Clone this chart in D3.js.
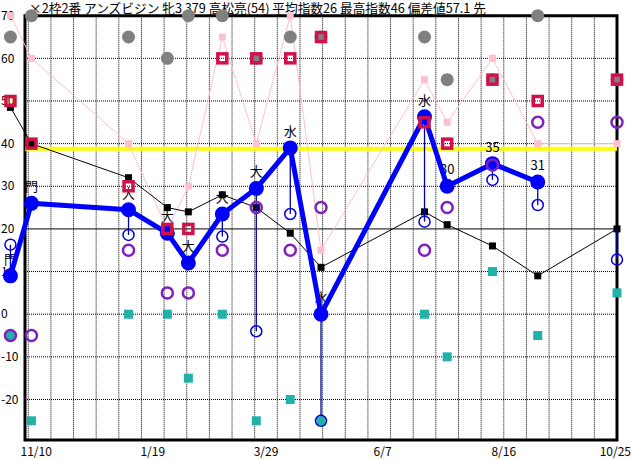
<!DOCTYPE html>
<html>
<head>
<meta charset="utf-8">
<script src="https://cdn.jsdelivr.net/npm/d3@7"></script>
<style>
  body { margin: 0; background: #fff; }
  svg { display: block; font-family: "Noto Sans CJK JP", sans-serif; }
</style>
</head>
<body>
<div id="chart"></div>
<script>
const title = "×2枠2番 アンズビジン 牝3 379 高松亮(54) 平均指数26 最高指数46 偏差値57.1 先";

const raceDates = ["2023-10-16", "2023-10-29", "2023-12-28", "2024-01-21", "2024-02-03", "2024-02-24", "2024-03-16",
  "2024-04-06", "2024-04-25", "2024-06-28", "2024-07-12", "2024-08-09", "2024-09-06", "2024-10-25"];
const raceLabels = ["門", "門", "大", "大", "大", "大", "大", "水", "水", "水", "30", "35", "31", ""];
const mainIndex = [9, 26, 24.5, 19, 12, 23.5, 29.5, 39, 0, 46.3, 30, 35.3, 31, null];
const subIndex = [16.3, 26, 18.6, 19, 12, 18.2, -4, 23.5, -25, 21.7, 30, 31.5, 25.6, 12.8];
const blackIndex = [48.5, 40, 32, 25, 24, 28, 25, 19, 11, 24, 21, 16, 9, 20];
const pinkIndex = [70, 60, 40, 20, 30, 65, 40, 70, 15, 55, 45, 60, 40, 40];
const redIndex = [50, 40, 30, 20, 20, 60, 60, 60, 65, 45, 40, 55, 50, 55];
const grayIndex = [65, 70, 65, 60, 70, 70, 60, 65, 65, 65, 55, 55, 70, 55];
const purpleIndex = [-5, -5, 15, 5, 5, 15, 25, 15, 25, 15, 25, 35, 45, 45];
const tealIndex = [-5, -25, 0, 0, -15, 0, -25, -20, -25, 0, -10, 10, -5, 5];
const avgLine = 38.8;

const yTicks = [70, 60, 50, 40, 30, 20, 10, 0, -10, -20];
const xTickDates = ["2023-11-10", "2024-01-19", "2024-03-29", "2024-06-07", "2024-08-16", "2024-10-25"];
const xTickLabels = ["11/10", "1/19", "3/29", "6/7", "8/16", "10/25"];

const width = 632;
const height = 460;
const parse = d3.timeParse("%Y-%m-%d");

const races = raceDates.map((d, i) => ({
  date: parse(d),
  label: raceLabels[i],
  main: mainIndex[i],
  sub: subIndex[i],
  black: blackIndex[i],
  pink: pinkIndex[i],
  red: redIndex[i],
  gray: grayIndex[i],
  purple: purpleIndex[i],
  teal: tealIndex[i]
}));

const x = d3.scaleTime()
  .domain([parse("2023-10-25"), parse("2024-10-25")])
  .range([25, 617]);
const y = d3.scaleLinear().domain([-29.5, 70]).range([440, 15.7]);

const svg = d3.select("#chart").append("svg")
  .attr("width", width)
  .attr("height", height);

// texts
svg.append("text")
  .attr("x", 29).attr("y", 13)
  .style("font-size", "12.7px")
  .text(title);

svg.append("g").selectAll("text")
  .data(yTicks)
  .join("text")
  .attr("x", 1)
  .attr("y", d => y(d))
  .attr("dy", "0.35em")
  .style("font-size", "12px")
  .text(d => d);

svg.append("g").selectAll("text")
  .data(xTickDates)
  .join("text")
  .attr("x", (d, i) => {
    const px = x(parse(d));
    if (i === 4) return px;
    if (i === 5) return Math.min(px + 14, 631);
    return px + 1;
  })
  .attr("y", 456)
  .attr("text-anchor", (d, i) => i === 4 ? "middle" : "end")
  .style("font-size", "12px")
  .text((d, i) => xTickLabels[i]);

// grid
const grid = svg.append("g");
const vDays = [];
for (let d = parse("2024-10-25"); d > x.domain()[0]; d = d3.timeDay.offset(d, -14)) vDays.push(d);

grid.selectAll(".v")
  .data(vDays)
  .join("line")
  .attr("x1", d => x(d)).attr("x2", d => x(d))
  .attr("y1", y(70)).attr("y2", 440)
  .attr("stroke", "#000")
  .attr("stroke-dasharray", "1,1");

grid.selectAll(".h")
  .data(yTicks.filter(d => d < 70))
  .join("line")
  .attr("x1", 25).attr("x2", 617)
  .attr("y1", d => y(d)).attr("y2", d => y(d))
  .attr("stroke", "#000")
  .attr("stroke-dasharray", d => d === 20 ? null : "1,1");

// frame
svg.append("path")
  .attr("d", `M25,${y(70)}H617V440H25Z`)
  .attr("fill", "none")
  .attr("stroke", "#000")
  .attr("stroke-width", 3);

// average line
svg.append("line")
  .attr("x1", 25).attr("x2", 617)
  .attr("y1", y(avgLine)).attr("y2", y(avgLine))
  .attr("stroke", "#ffff00")
  .attr("stroke-width", 4);

// race labels
svg.append("g").selectAll("text")
  .data(races.filter(d => d.main != null))
  .join("text")
  .attr("x", d => x(d.date))
  .attr("y", d => y(d.main) - 12)
  .attr("text-anchor", "middle")
  .style("font-size", "13px")
  .text(d => d.label);

// pink line
svg.append("path")
  .datum(races)
  .attr("fill", "none")
  .attr("stroke", "#ffc0cb")
  .attr("stroke-width", 1)
  .attr("d", d3.line().x(d => x(d.date)).y(d => y(d.pink)));
svg.append("g").selectAll("rect")
  .data(races)
  .join("rect")
  .attr("x", d => x(d.date) - 3.5).attr("y", d => y(d.pink) - 3.5)
  .attr("width", 7).attr("height", 7)
  .attr("fill", "#ffc0cb");

// black line
svg.append("path")
  .datum(races)
  .attr("fill", "none")
  .attr("stroke", "#000")
  .attr("stroke-width", 1)
  .attr("d", d3.line().x(d => x(d.date)).y(d => y(d.black)));
svg.append("g").selectAll("rect")
  .data(races)
  .join("rect")
  .attr("x", d => x(d.date) - 3.5).attr("y", d => y(d.black) - 3.5)
  .attr("width", 7).attr("height", 7)
  .attr("fill", "#000");

// thin blue links main -> sub
svg.append("g").selectAll("line")
  .data(races)
  .join("line")
  .attr("x1", d => x(d.date)).attr("x2", d => x(d.date))
  .attr("y1", d => y(d.main != null ? d.main : d.black))
  .attr("y2", d => y(d.sub))
  .attr("stroke", "#0000b0")
  .attr("stroke-width", 1.3);

// main line
const mainRaces = races.filter(d => d.main != null);
svg.append("path")
  .datum(mainRaces)
  .attr("fill", "none")
  .attr("stroke", "#0000ff")
  .attr("stroke-width", 5)
  .attr("stroke-linejoin", "round")
  .attr("d", d3.line().x(d => x(d.date)).y(d => y(d.main)));
svg.append("g").selectAll("circle")
  .data(mainRaces)
  .join("circle")
  .attr("cx", d => x(d.date)).attr("cy", d => y(d.main))
  .attr("r", 7.5)
  .attr("fill", "#0000ff");

// gray circles
svg.append("g").selectAll("circle")
  .data(races)
  .join("circle")
  .attr("cx", d => x(d.date)).attr("cy", d => y(d.gray))
  .attr("r", 6.5)
  .attr("fill", "#808080");

// teal squares
svg.append("g").selectAll("rect")
  .data(races)
  .join("rect")
  .attr("x", d => x(d.date) - 4.5).attr("y", d => y(d.teal) - 4.5)
  .attr("width", 9).attr("height", 9)
  .attr("fill", "#20b2aa");

// blue open circles
svg.append("g").selectAll("circle")
  .data(races)
  .join("circle")
  .attr("cx", d => x(d.date)).attr("cy", d => y(d.sub))
  .attr("r", 5.5)
  .attr("fill", "none")
  .attr("stroke", "#0000dd")
  .attr("stroke-width", 1.5);

// purple circles
svg.append("g").selectAll("circle")
  .data(races)
  .join("circle")
  .attr("cx", d => x(d.date)).attr("cy", d => y(d.purple))
  .attr("r", 5.5)
  .attr("fill", "none")
  .attr("stroke", "#8020c0")
  .attr("stroke-width", 2.5);

// red squares
svg.append("g").selectAll("rect")
  .data(races)
  .join("rect")
  .attr("x", d => x(d.date) - 4.5).attr("y", d => y(d.red) - 4.5)
  .attr("width", 9).attr("height", 9)
  .attr("fill", "none")
  .attr("stroke", "#d0124a")
  .attr("stroke-width", 3.5);
</script>
</body>
</html>
